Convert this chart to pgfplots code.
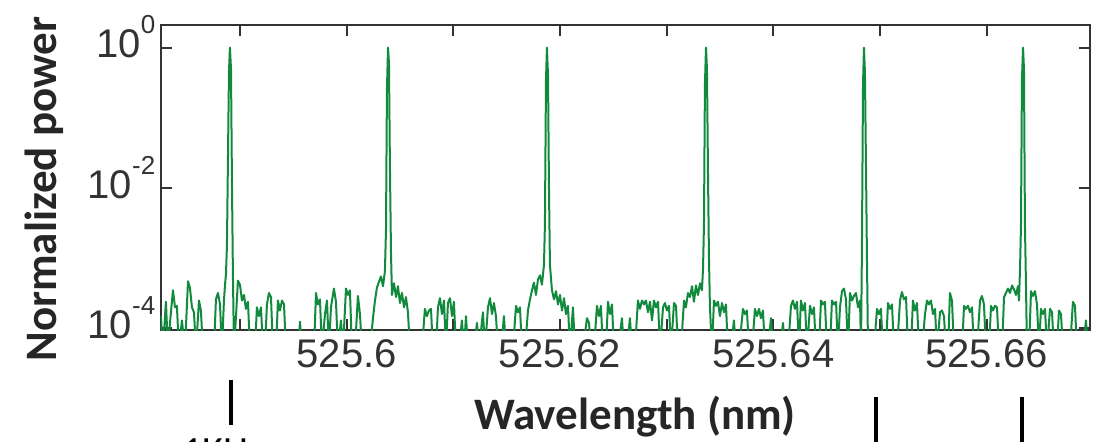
\documentclass[border=0pt]{standalone}
\usepackage{pgfplots}
\pgfplotsset{compat=1.18}
\usepackage{fontspec}
\setmainfont{Liberation Sans}
\newfontfamily\calibri{Carlito}
\definecolor{specgreen}{RGB}{18,138,62}
\newcommand\pw[1]{10\raisebox{12pt}{\fontsize{13}{13}\selectfont #1}}
% x values: wavelength minus 525.5 nm (offset kept for numerical precision)
\pgfplotstableread{
x y
0.08259 1.5e-4
0.08278 5e-5
0.08306 2.4e-4
0.08325 5e-5
0.08344 1.2e-4
0.08372 3.5e-4
0.08391 2.0e-4
0.08409 2.1e-4
0.08428 5e-5
0.08456 1.3e-4
0.08484 5e-5
0.08513 4.7e-4
0.08531 3.8e-4
0.08550 2.0e-4
0.08569 1.7e-4
0.08588 5e-5
0.08616 2.5e-4
0.08634 1.8e-4
0.08653 5e-5
0.08756 5e-5
0.08775 2.6e-4
0.08794 3.2e-4
0.08813 2.2e-4
0.08831 5e-5
0.08850 2.5e-4
0.08859 4.0e-4
0.08869 6.0e-4
0.08878 1.5e-3
0.08888 0.03
0.08897 0.45
0.08906 1.0
0.08916 0.5
0.08925 0.012
0.08934 6e-4
0.08944 5e-5
0.08963 1.5e-4
0.08981 4.8e-4
0.09000 4.2e-4
0.09019 2.5e-4
0.09038 3.0e-4
0.09056 1.9e-4
0.09075 2.4e-4
0.09094 5e-5
0.09141 5e-5
0.09159 2.0e-4
0.09178 1.5e-4
0.09197 2.0e-4
0.09216 5e-5
0.09234 5e-5
0.09253 2.2e-4
0.09272 3.2e-4
0.09291 2.8e-4
0.09309 5e-5
0.09338 5e-5
0.09356 2.5e-4
0.09375 1.8e-4
0.09394 2.5e-4
0.09413 2.2e-4
0.09431 5e-5
0.09544 5e-5
0.09563 1.25e-4
0.09581 5e-5
0.09694 5e-5
0.09713 3.2e-4
0.09731 2.2e-4
0.09750 2.6e-4
0.09769 5e-5
0.09797 1.6e-4
0.09816 2.5e-4
0.09834 5e-5
0.09853 2.0e-4
0.09881 3.7e-4
0.09900 2.4e-4
0.09919 5e-5
0.09947 1.3e-4
0.09966 5e-5
0.09994 3.7e-4
0.10013 3.0e-4
0.10031 3.5e-4
0.10050 5e-5
0.10078 5e-5
0.10106 2.9e-4
0.10125 1.6e-4
0.10144 5e-5
0.10219 5e-5
0.10247 1.4e-4
0.10266 2.5e-4
0.10284 3.8e-4
0.10303 4.6e-4
0.10322 5.5e-4
0.10341 4.0e-4
0.10359 6.5e-4
0.10369 2.5e-3
0.10378 0.25
0.10388 1.0
0.10397 0.6
0.10406 0.02
0.10416 1.2e-3
0.10425 3e-4
0.10444 4.4e-4
0.10463 2.8e-4
0.10481 4.0e-4
0.10500 2.3e-4
0.10519 3.2e-4
0.10538 2.0e-4
0.10556 2.8e-4
0.10575 1.7e-4
0.10594 5e-5
0.10706 5e-5
0.10734 1.9e-4
0.10753 1.5e-4
0.10772 1.8e-4
0.10791 1.9e-4
0.10809 5e-5
0.10838 5e-5
0.10856 2.0e-4
0.10875 2.7e-4
0.10894 1.6e-4
0.10913 2.5e-4
0.10931 5e-5
0.10950 2.3e-4
0.10969 2.7e-4
0.10988 1.5e-4
0.11006 2.4e-4
0.11025 5e-5
0.11053 5e-5
0.11081 1.3e-4
0.11100 5e-5
0.11119 1.5e-4
0.11138 5e-5
0.11194 5e-5
0.11222 1.2e-4
0.11241 5e-5
0.11278 1.7e-4
0.11297 5e-5
0.11325 2.0e-4
0.11344 2.7e-4
0.11363 1.6e-4
0.11381 2.3e-4
0.11400 1.5e-4
0.11419 5e-5
0.11447 5e-5
0.11475 1.5e-4
0.11494 5e-5
0.11559 5e-5
0.11588 2.1e-4
0.11606 1.7e-4
0.11625 2.0e-4
0.11644 5e-5
0.11672 5e-5
0.11700 1.8e-4
0.11719 2.6e-4
0.11738 3.5e-4
0.11756 4.5e-4
0.11775 3.0e-4
0.11794 5.0e-4
0.11813 5.7e-4
0.11831 4.2e-4
0.11850 8.0e-4
0.11859 3e-3
0.11869 0.35
0.11878 1.0
0.11888 0.4
0.11897 0.01
0.11906 8e-4
0.11925 3.5e-4
0.11944 2.6e-4
0.11963 3.4e-4
0.11981 2.2e-4
0.12000 3.0e-4
0.12019 1.8e-4
0.12038 2.7e-4
0.12056 1.6e-4
0.12075 2.1e-4
0.12094 5e-5
0.12122 2.0e-4
0.12141 5e-5
0.12216 5e-5
0.12253 1.4e-4
0.12272 1.2e-4
0.12291 5e-5
0.12319 5e-5
0.12347 2.1e-4
0.12366 1.5e-4
0.12384 2.1e-4
0.12403 5e-5
0.12431 5e-5
0.12450 2.4e-4
0.12469 1.6e-4
0.12488 2.2e-4
0.12506 5e-5
0.12544 5e-5
0.12581 1.4e-4
0.12600 5e-5
0.12628 5e-5
0.12656 1.4e-4
0.12675 5e-5
0.12703 5e-5
0.12731 2.5e-4
0.12750 1.9e-4
0.12769 2.5e-4
0.12788 2.2e-4
0.12806 2.5e-4
0.12825 1.7e-4
0.12844 2.4e-4
0.12863 1.3e-4
0.12881 2.5e-4
0.12900 2.0e-4
0.12919 2.4e-4
0.12938 5e-5
0.12966 2.0e-4
0.12984 2.3e-4
0.13003 1.8e-4
0.13022 2.1e-4
0.13041 5e-5
0.13069 2.3e-4
0.13088 2.1e-4
0.13106 5e-5
0.13134 5e-5
0.13163 2.5e-4
0.13181 2.0e-4
0.13200 3.2e-4
0.13219 2.8e-4
0.13238 4.0e-4
0.13256 2.4e-4
0.13275 4.1e-4
0.13294 3.0e-4
0.13313 4.4e-4
0.13331 3.5e-4
0.13341 7e-4
0.13350 3e-3
0.13359 0.3
0.13369 1.0
0.13378 0.5
0.13388 0.015
0.13397 1e-3
0.13406 2e-4
0.13425 5e-5
0.13444 2.5e-4
0.13463 2.1e-4
0.13481 2.4e-4
0.13500 1.5e-4
0.13519 2.3e-4
0.13538 1.7e-4
0.13556 2.2e-4
0.13575 5e-5
0.13603 5e-5
0.13631 1.3e-4
0.13650 5e-5
0.13678 5e-5
0.13716 1.9e-4
0.13734 1.6e-4
0.13753 1.8e-4
0.13772 5e-5
0.13800 5e-5
0.13828 1.9e-4
0.13847 1.5e-4
0.13866 1.9e-4
0.13884 1.4e-4
0.13903 1.8e-4
0.13922 5e-5
0.13950 5e-5
0.13978 1.4e-4
0.13997 5e-5
0.14063 5e-5
0.14091 1.2e-4
0.14109 5e-5
0.14138 5e-5
0.14166 2.1e-4
0.14184 2.5e-4
0.14203 1.9e-4
0.14222 2.4e-4
0.14241 5e-5
0.14259 2.5e-4
0.14278 1.8e-4
0.14297 2.3e-4
0.14316 5e-5
0.14344 2.1e-4
0.14363 1.6e-4
0.14381 2.0e-4
0.14400 5e-5
0.14428 5e-5
0.14447 2.5e-4
0.14466 2.2e-4
0.14484 2.4e-4
0.14503 5e-5
0.14531 5e-5
0.14550 2.5e-4
0.14569 2.2e-4
0.14588 2.4e-4
0.14606 5e-5
0.14625 2.0e-4
0.14644 3.4e-4
0.14663 3.7e-4
0.14681 2.6e-4
0.14700 5e-5
0.14719 3.2e-4
0.14738 2.5e-4
0.14756 2.9e-4
0.14775 3.2e-4
0.14794 2.0e-4
0.14813 2.5e-4
0.14822 5e-5
0.14831 1.5e-3
0.14841 0.3
0.14850 1.0
0.14859 0.45
0.14869 0.02
0.14878 1e-3
0.14888 5e-5
0.14944 5e-5
0.14972 1.9e-4
0.14991 1.6e-4
0.15009 1.9e-4
0.15028 5e-5
0.15056 5e-5
0.15075 2.3e-4
0.15094 1.9e-4
0.15113 2.2e-4
0.15131 5e-5
0.15159 5e-5
0.15188 2.5e-4
0.15206 3.3e-4
0.15225 2.6e-4
0.15244 2.8e-4
0.15263 5e-5
0.15291 5e-5
0.15309 2.5e-4
0.15328 1.8e-4
0.15347 2.3e-4
0.15366 5e-5
0.15394 5e-5
0.15422 1.6e-4
0.15441 2.5e-4
0.15459 2.2e-4
0.15478 2.5e-4
0.15497 1.6e-4
0.15516 1.9e-4
0.15534 5e-5
0.15563 1.7e-4
0.15581 1.8e-4
0.15600 1.5e-4
0.15619 5e-5
0.15638 5e-5
0.15656 3.2e-4
0.15675 2.5e-4
0.15694 5e-5
0.15769 5e-5
0.15788 2.1e-4
0.15806 1.9e-4
0.15825 2.1e-4
0.15844 1.7e-4
0.15863 2.0e-4
0.15881 5e-5
0.15909 5e-5
0.15938 2.5e-4
0.15956 2.9e-4
0.15975 2.2e-4
0.15994 5e-5
0.16022 5e-5
0.16041 2.1e-4
0.16059 1.8e-4
0.16078 2.1e-4
0.16097 2.0e-4
0.16116 5e-5
0.16144 5e-5
0.16163 2.8e-4
0.16181 3.2e-4
0.16200 3.7e-4
0.16219 3.2e-4
0.16238 4.1e-4
0.16256 3.6e-4
0.16275 3.0e-4
0.16294 4.0e-4
0.16303 2.5e-4
0.16313 7e-4
0.16322 3e-3
0.16331 0.35
0.16341 1.0
0.16350 0.5
0.16359 0.003
0.16369 4e-4
0.16378 5e-5
0.16397 5e-5
0.16416 3.4e-4
0.16434 2.9e-4
0.16453 3.4e-4
0.16472 2.2e-4
0.16491 5e-5
0.16509 1.9e-4
0.16528 1.6e-4
0.16547 1.9e-4
0.16566 5e-5
0.16594 1.9e-4
0.16613 1.7e-4
0.16631 5e-5
0.16659 5e-5
0.16678 1.8e-4
0.16697 1.6e-4
0.16716 5e-5
0.16781 5e-5
0.16809 2.4e-4
0.16828 2.1e-4
0.16847 5e-5
0.16903 5e-5
0.16931 1.3e-4
0.16950 5e-5
0.16969 5e-5
}\spectrum
\begin{document}
\begin{tikzpicture}
\begin{axis}[
  scale only axis,
  width=464.65pt, height=152.5pt,
  xmin=0.08257, xmax=0.16969,
  ymode=log, ymin=9.5e-5, ymax=2.1,
  xtick={0.09,0.10,0.11,0.12,0.13,0.14,0.15,0.16},
  xticklabels={,525.6,,525.62,,525.64,,525.66},
  ytick={1e-4,1e-2,1},
  yticklabels={\pw{-4},\pw{-2},\pw{0}},
  yminorticks=false,
  tick align=inside,
  major tick length=5.5pt,
  axis line style={black!80, line width=1pt},
  tick style={black!80, line width=1pt},
  x tick label style={font=\fontsize{20}{24}\selectfont, text=black!80, inner sep=0pt, anchor=north, text height=14.5pt, text depth=0pt, yshift=-4pt},
  y tick label style={font=\fontsize{20}{24}\selectfont, text=black!80, inner sep=0pt, anchor=base east, xshift=-2.5pt, yshift=-5pt},
  xlabel={Wavelength (nm)},
  ylabel={Normalized power},
  every axis x label/.style={at={(axis description cs:0.5104,-0.285)}, anchor=center, font=\calibri\bfseries\fontsize{22.5}{27}\selectfont, text=black!85},
  every axis y label/.style={at={(axis description cs:-0.1256,0.462)}, anchor=center, rotate=90, font=\calibri\bfseries\fontsize{22.5}{27}\selectfont, text=black!85},
]
\addplot[color=specgreen, line width=1pt, line join=round] table[x=x, y=y] {\spectrum};
\coordinate (L1a) at (rel axis cs:0.07565,-0.164);
\coordinate (L1b) at (rel axis cs:0.07565,-0.311);
\coordinate (L2a) at (rel axis cs:0.7697,-0.2197);
\coordinate (L2b) at (rel axis cs:0.7697,-0.40);
\coordinate (L3a) at (rel axis cs:0.9268,-0.2197);
\coordinate (L3b) at (rel axis cs:0.9268,-0.40);
\coordinate (TXT) at (rel axis cs:0.0229,-0.3541);
\coordinate (BBsw) at (rel axis cs:-0.17293,-0.36721);
\coordinate (BBne) at (rel axis cs:1.01722,1.08197);
\end{axis}
\draw[line width=2pt, black] (L1a) -- (L1b);
\draw[line width=1.6pt, black] (L2a) -- (L2b);
\draw[line width=1.6pt, black] (L3a) -- (L3b);
\node[anchor=north west, inner sep=0pt, font=\calibri\fontsize{20}{24}\selectfont] at (TXT) {1KHz};
\pgfresetboundingbox
\useasboundingbox (BBsw) rectangle (BBne);
\end{tikzpicture}
\end{document}
